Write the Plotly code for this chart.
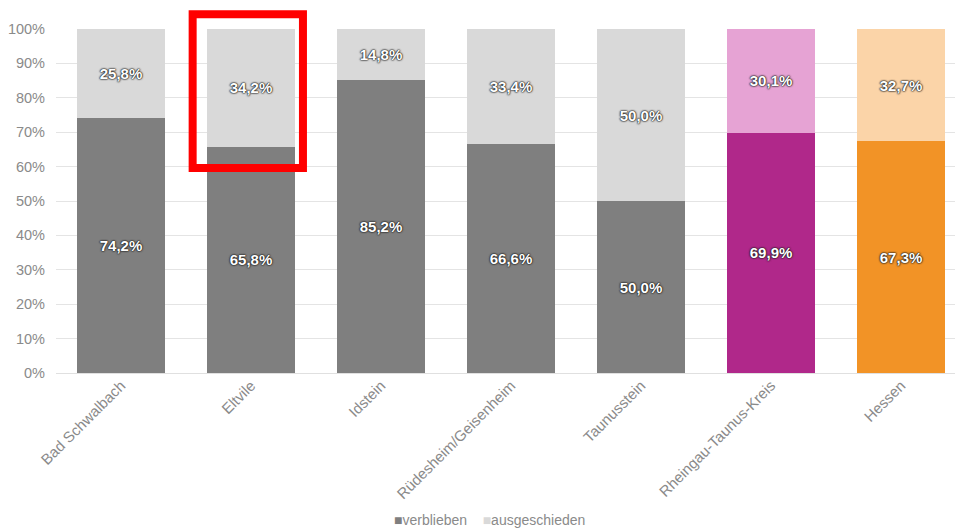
import plotly.graph_objects as go

categories = ["Bad Schwalbach", "Eltvile", "Idstein", "Rüdesheim/Geisenheim",
              "Taunusstein", "Rheingau-Taunus-Kreis", "Hessen"]
verblieben = [74.2, 65.8, 85.2, 66.6, 50.0, 69.9, 67.3]
ausgeschieden = [25.8, 34.2, 14.8, 33.4, 50.0, 30.1, 32.7]
colors_verblieben = ["#7f7f7f"] * 5 + ["#b0288a", "#f29326"]
colors_ausgeschieden = ["#d9d9d9"] * 5 + ["#e6a3d4", "#fbd4a8"]
y_ticks = [0, 10, 20, 30, 40, 50, 60, 70, 80, 90, 100]
series_names = ["verblieben", "ausgeschieden"]

FONT = "Liberation Sans, Arial, Helvetica"
TICK_COLOR = "#8a8a8a"

def fmt(v):
    return f"{v:.1f}".replace(".", ",") + "%"

label_font = dict(family=FONT, size=15, color="white", weight="bold",
                  shadow="0px 0px 2px #222, 0px 0px 2px #222, 0px 0px 1px #000")

fig = go.Figure()
fig.add_trace(go.Bar(
    x=categories, y=verblieben, name=series_names[0],
    marker=dict(color=colors_verblieben, line=dict(width=0)),
    text=[fmt(v) for v in verblieben], textposition="inside",
    insidetextanchor="middle", textangle=0, textfont=label_font,
    hoverinfo="skip", showlegend=False,
))
fig.add_trace(go.Bar(
    x=categories, y=ausgeschieden, name=series_names[1],
    marker=dict(color=colors_ausgeschieden, line=dict(width=0)),
    text=[fmt(v) for v in ausgeschieden], textposition="inside",
    insidetextanchor="middle", textangle=0, textfont=label_font,
    hoverinfo="skip", showlegend=False,
))

# red highlight rectangle around Eltvile top segment (paper coordinates)
fig.add_shape(type="rect", xref="paper", yref="paper",
              x0=0.152, x1=0.2747, y0=0.596, y1=1.043,
              line=dict(color="#ff0000", width=8), fillcolor="rgba(0,0,0,0)",
              layer="above")

# legend drawn as text
legend_text = (f"<span style='color:{colors_verblieben[0]}'>■</span>{series_names[0]}"
               f"&nbsp;&nbsp;&nbsp;&nbsp;<span style='color:{colors_ausgeschieden[0]}'>■</span>"
               f"{series_names[1]}")
fig.add_annotation(xref="paper", yref="paper", x=0.374, y=-0.428,
                   xanchor="left", yanchor="middle", showarrow=False,
                   text=legend_text, font=dict(family=FONT, size=14, color=TICK_COLOR))

fig.update_layout(
    width=955, height=531,
    barmode="stack", bargap=0.33,
    plot_bgcolor="white", paper_bgcolor="white",
    margin=dict(l=56, r=0, t=29, b=158),
    font=dict(family=FONT, color=TICK_COLOR, size=14),
    showlegend=False,
    xaxis=dict(range=[-0.5, 6.415], tickangle=-45, showgrid=False, automargin=False,
               showline=False, ticks="", tickfont=dict(size=15, color=TICK_COLOR)),
    yaxis=dict(range=[0, 100], tickvals=y_ticks, automargin=False,
               ticktext=[f"{t}%" for t in y_ticks],
               showgrid=True, gridcolor="#e4e4e4", gridwidth=1,
               zeroline=True, zerolinecolor="#e0e0e0", zerolinewidth=1,
               ticks="", tickfont=dict(size=14.5, color=TICK_COLOR), ticklabelstandoff=10),
)

fig.write_html("out.html")
